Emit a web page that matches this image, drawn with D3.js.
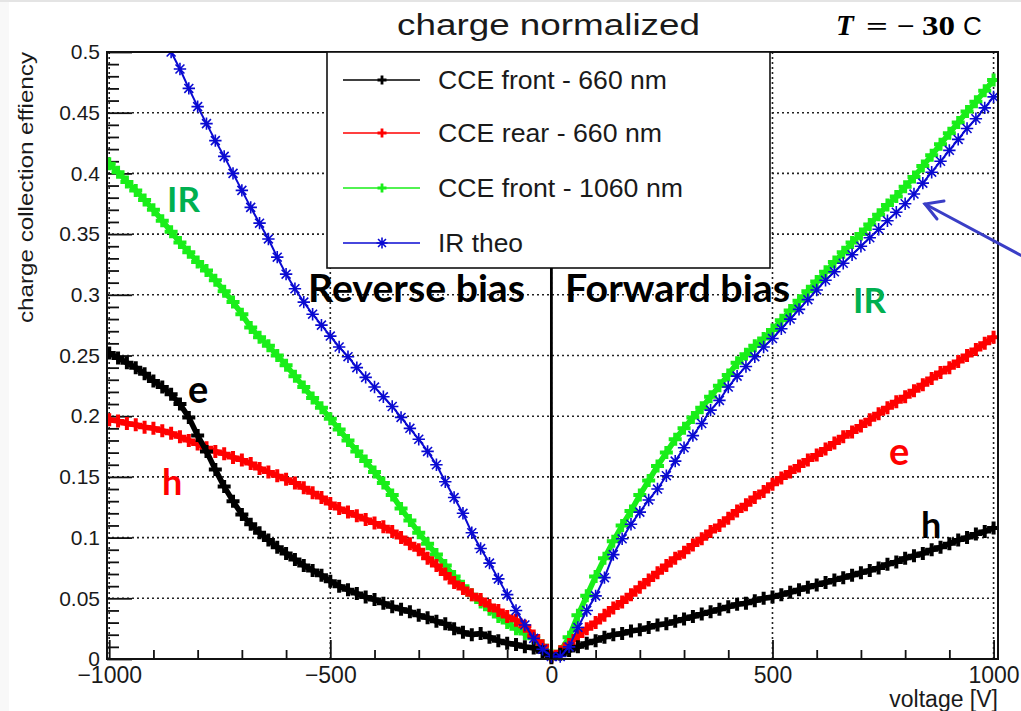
<!DOCTYPE html>
<html>
<head>
<meta charset="utf-8">
<script src="https://cdn.jsdelivr.net/npm/d3@7"></script>
<style>
  html, body { margin: 0; padding: 0; background: #ffffff; }
  svg { display: block; }
</style>
</head>
<body>
<svg id="chart" width="1021" height="711"></svg>
<script>
// Bias voltage [V], 20 V steps
const voltage = [
  -1000, -980, -960, -940, -920, -900, -880, -860, -840, -820,
  -800, -780, -760, -740, -720, -700, -680, -660, -640, -620,
  -600, -580, -560, -540, -520, -500, -480, -460, -440, -420,
  -400, -380, -360, -340, -320, -300, -280, -260, -240, -220,
  -200, -180, -160, -140, -120, -100, -80, -60, -40, -20,
  0,
  20, 40, 60, 80, 100, 120, 140, 160, 180, 200,
  220, 240, 260, 280, 300, 320, 340, 360, 380, 400,
  420, 440, 460, 480, 500, 520, 540, 560, 580, 600,
  620, 640, 660, 680, 700, 720, 740, 760, 780, 800,
  820, 840, 860, 880, 900, 920, 940, 960, 980, 1000
];

// CCE front - 660 nm
const cceFront660 = [
  0.252, 0.248, 0.244, 0.240, 0.235, 0.229, 0.224, 0.218, 0.210, 0.199,
  0.184, 0.171, 0.156, 0.142, 0.130, 0.119, 0.111, 0.104, 0.098, 0.092,
  0.087, 0.082, 0.077, 0.073, 0.069, 0.064, 0.060, 0.057, 0.054, 0.051,
  0.049, 0.046, 0.043, 0.041, 0.039, 0.036, 0.034, 0.031, 0.029, 0.025,
  0.022, 0.020, 0.021, 0.018, 0.015, 0.013, 0.012, 0.010, 0.009, 0.006,
  0.001,
  0.004, 0.007, 0.010, 0.013, 0.015, 0.018, 0.020, 0.021, 0.023, 0.024,
  0.026, 0.028, 0.029, 0.031, 0.033, 0.035, 0.037, 0.039, 0.041, 0.043,
  0.045, 0.046, 0.048, 0.050, 0.051, 0.053, 0.055, 0.057, 0.059, 0.061,
  0.063, 0.065, 0.067, 0.069, 0.071, 0.073, 0.075, 0.078, 0.080, 0.083,
  0.085, 0.087, 0.090, 0.092, 0.095, 0.098, 0.100, 0.103, 0.105, 0.108
];

// CCE rear - 660 nm
const cceRear660 = [
  0.197, 0.196, 0.194, 0.193, 0.191, 0.190, 0.188, 0.186, 0.183, 0.180,
  0.177, 0.174, 0.171, 0.169, 0.166, 0.164, 0.161, 0.157, 0.154, 0.151,
  0.148, 0.145, 0.141, 0.137, 0.133, 0.128, 0.124, 0.121, 0.118, 0.115,
  0.112, 0.109, 0.105, 0.100, 0.095, 0.090, 0.083, 0.077, 0.070, 0.063,
  0.058, 0.053, 0.049, 0.044, 0.040, 0.035, 0.032, 0.027, 0.019, 0.011,
  0.002,
  0.006, 0.012, 0.019, 0.025, 0.030, 0.036, 0.042, 0.047, 0.053, 0.059,
  0.065, 0.071, 0.077, 0.083, 0.088, 0.094, 0.099, 0.105, 0.110, 0.116,
  0.122, 0.127, 0.133, 0.138, 0.144, 0.149, 0.154, 0.159, 0.164, 0.168,
  0.173, 0.178, 0.183, 0.187, 0.192, 0.197, 0.202, 0.207, 0.212, 0.216,
  0.221, 0.226, 0.231, 0.236, 0.240, 0.245, 0.250, 0.255, 0.260, 0.265
];

// CCE front - 1060 nm
const cceFront1060 = [
  0.408, 0.401, 0.393, 0.386, 0.378, 0.370, 0.361, 0.352, 0.343, 0.335,
  0.327, 0.320, 0.312, 0.303, 0.294, 0.284, 0.273, 0.265, 0.258, 0.250,
  0.242, 0.233, 0.224, 0.215, 0.207, 0.198, 0.189, 0.180, 0.171, 0.163,
  0.154, 0.145, 0.135, 0.124, 0.114, 0.104, 0.095, 0.086, 0.077, 0.068,
  0.060, 0.053, 0.047, 0.041, 0.035, 0.030, 0.025, 0.021, 0.017, 0.011,
  0.003,
  0.006, 0.018, 0.036, 0.052, 0.068, 0.083, 0.097, 0.110, 0.122, 0.135,
  0.147, 0.159, 0.170, 0.181, 0.190, 0.199, 0.207, 0.216, 0.225, 0.234,
  0.244, 0.251, 0.258, 0.264, 0.271, 0.279, 0.287, 0.295, 0.303, 0.311,
  0.319, 0.327, 0.335, 0.343, 0.350, 0.358, 0.366, 0.374, 0.381, 0.389,
  0.397, 0.406, 0.415, 0.424, 0.433, 0.442, 0.451, 0.459, 0.468, 0.477
];

// IR theo (no points below -880 V)
const irTheo = [
  null, null, null, null, null, null, 0.514, 0.500, 0.486, 0.470,
  0.455, 0.441, 0.427, 0.414, 0.400, 0.386, 0.372, 0.359, 0.346, 0.331,
  0.317, 0.305, 0.294, 0.284, 0.275, 0.266, 0.257, 0.249, 0.240, 0.232,
  0.224, 0.216, 0.208, 0.199, 0.190, 0.181, 0.171, 0.160, 0.146, 0.133,
  0.120, 0.104, 0.091, 0.079, 0.066, 0.053, 0.040, 0.028, 0.017, 0.008,
  0.002,
  0.002, 0.010, 0.026, 0.040, 0.052, 0.067, 0.086, 0.099, 0.111, 0.121,
  0.131, 0.140, 0.151, 0.163, 0.174, 0.184, 0.194, 0.205, 0.213, 0.224,
  0.233, 0.241, 0.249, 0.257, 0.264, 0.272, 0.280, 0.288, 0.296, 0.304,
  0.312, 0.319, 0.326, 0.333, 0.340, 0.347, 0.354, 0.361, 0.368, 0.375,
  0.383, 0.392, 0.401, 0.410, 0.419, 0.428, 0.437, 0.445, 0.454, 0.463
];

const seriesNames = ["CCE front - 660 nm", "CCE rear - 660 nm", "CCE front - 1060 nm", "IR theo"];
const seriesColors = ["#000000", "#ff0000", "#19ee19", "#0a0ad2"];
const seriesMarkers = ["plus", "plus", "plus", "star"];
const seriesValues = [cceFront660, cceRear660, cceFront1060, irTheo];
// drawing order of the series (index into the arrays above)
const drawOrder = [2, 1, 0, 3];

const xMajorTicks = [-1000, -500, 0, 500, 1000];
const xTickLabels = ["\u22121000", "\u2212500", "0", "500", "1000"];
const xMinorTicks = [-900, -800, -700, -600, -400, -300, -200, -100,
                     100, 200, 300, 400, 600, 700, 800, 900];
const yMajorTicks = [0, 0.05, 0.1, 0.15, 0.2, 0.25, 0.3, 0.35, 0.4, 0.45, 0.5];
const yTickLabels = ["0", "0.05", "0.1", "0.15", "0.2", "0.25", "0.3", "0.35", "0.4", "0.45", "0.5"];
const yMinorTicks = [
  0.01, 0.02, 0.03, 0.04, 0.06, 0.07, 0.08, 0.09, 0.11, 0.12, 0.13, 0.14,
  0.16, 0.17, 0.18, 0.19, 0.21, 0.22, 0.23, 0.24, 0.26, 0.27, 0.28, 0.29,
  0.31, 0.32, 0.33, 0.34, 0.36, 0.37, 0.38, 0.39, 0.41, 0.42, 0.43, 0.44,
  0.46, 0.47, 0.48, 0.49
];

const titleText = "charge normalized";
const xTitle = "voltage [V]";
const yTitle = "charge collection effiency";

// ---------------------------------------------------------------
const svg = d3.select("#chart");
const W = 1021, H = 711;
const frame = { left: 107, right: 998, top: 52, bottom: 659 };

const x = d3.scaleLinear().domain([-1005, 1010]).range([frame.left, frame.right]);
const y = d3.scaleLinear().domain([0, 0.5]).range([frame.bottom, frame.top]);

const sans = "'Liberation Sans', Arial, Helvetica, sans-serif";
const bold = "Lato, 'Open Sans', sans-serif";

// page background with a faint slide edge
svg.append("rect").attr("width", W).attr("height", H).attr("fill", "#ffffff");
svg.append("rect").attr("x", 0).attr("y", 0).attr("width", W).attr("height", 2).attr("fill", "#e4e4e4");
svg.append("rect").attr("x", 0).attr("y", 2).attr("width", 9).attr("height", H - 2).attr("fill", "#f8f8f8");

// dotted grid
const grid = svg.append("g").attr("stroke", "#222").attr("stroke-width", 1.6)
  .attr("stroke-dasharray", "2 3").attr("fill", "none");
grid.selectAll("line.gx").data(xMajorTicks).join("line")
  .attr("x1", d => x(d)).attr("x2", d => x(d))
  .attr("y1", frame.top).attr("y2", frame.bottom);
grid.selectAll("line.gy").data(yMajorTicks.slice(1, -1)).join("line")
  .attr("x1", frame.left).attr("x2", frame.right)
  .attr("y1", d => y(d)).attr("y2", d => y(d));

// axes: ticks pointing into the frame
const xMinorAxis = d3.axisBottom(x).tickValues(xMinorTicks).tickSize(-9).tickSizeOuter(0).tickFormat("");
const xMajorAxis = d3.axisBottom(x).tickValues(xMajorTicks).tickSize(-19).tickSizeOuter(0)
  .tickPadding(8).tickFormat((d, i) => xTickLabels[i]);
const yMinorAxis = d3.axisLeft(y).tickValues(yMinorTicks).tickSize(-12).tickSizeOuter(0).tickFormat("");
const yMajorAxis = d3.axisLeft(y).tickValues(yMajorTicks).tickSize(-25).tickSizeOuter(0)
  .tickPadding(7).tickFormat((d, i) => yTickLabels[i]);

function styleAxis(g) {
  g.select(".domain").remove();
  g.selectAll(".tick line").attr("stroke", "#111").attr("stroke-width", 1.8);
  g.selectAll(".tick text").attr("fill", "#1a1a1a").attr("font-family", sans);
}
svg.append("g").attr("transform", `translate(0,${frame.bottom})`).call(xMinorAxis).call(styleAxis);
svg.append("g").attr("transform", `translate(0,${frame.bottom})`).call(xMajorAxis).call(styleAxis)
  .selectAll(".tick text").attr("font-size", 23);
svg.append("g").attr("transform", `translate(${frame.left},0)`).call(yMinorAxis).call(styleAxis);
svg.append("g").attr("transform", `translate(${frame.left},0)`).call(yMajorAxis).call(styleAxis)
  .selectAll(".tick text").attr("font-size", 21);

// data
svg.append("clipPath").attr("id", "plotClip").append("rect")
  .attr("x", frame.left).attr("y", frame.top)
  .attr("width", frame.right - frame.left).attr("height", 660 - frame.top + 12);

const markerPath = {
  plus: s => `M${-s},0H${s}M0,${-s}V${s}`,
  star: s => {
    const k = s * 0.72;
    return `M${-s},0H${s}M0,${-s}V${s}M${-k},${-k}L${k},${k}M${-k},${k}L${k},${-k}`;
  }
};

const plot = svg.append("g").attr("clip-path", "url(#plotClip)");
const line = d3.line()
  .defined(d => d[1] !== null)
  .x(d => x(d[0])).y(d => y(d[1]));

drawOrder.forEach(si => {
  const pts = voltage.map((v, i) => [v, seriesValues[si][i]]);
  const shown = pts.filter(d => d[1] !== null);
  const isStar = seriesMarkers[si] === "star";
  const g = plot.append("g");
  g.append("path").datum(pts)
    .attr("d", line)
    .attr("fill", "none")
    .attr("stroke", seriesColors[si])
    .attr("stroke-width", isStar ? 2 : 5.5)
    .attr("stroke-linejoin", "round");
  g.selectAll("path.m").data(shown).join("path")
    .attr("transform", d => `translate(${x(d[0])},${y(d[1])})`)
    .attr("d", markerPath[seriesMarkers[si]](isStar ? 6.2 : 6.5))
    .attr("fill", "none")
    .attr("stroke", seriesColors[si])
    .attr("stroke-width", isStar ? 1.6 : 4);
});

// frame
svg.append("rect")
  .attr("x", frame.left).attr("y", frame.top)
  .attr("width", frame.right - frame.left).attr("height", frame.bottom - frame.top)
  .attr("fill", "none").attr("stroke", "#111").attr("stroke-width", 2);

// legend
const legend = { x: 327, y: 52, w: 443, h: 216 };
svg.append("rect")
  .attr("x", legend.x).attr("y", legend.y).attr("width", legend.w).attr("height", legend.h)
  .attr("fill", "#ffffff").attr("stroke", "#111").attr("stroke-width", 1.6);
const legendRows = [80, 133, 188, 243];
const legendTextWidths = [229, 224, 245, 85];
seriesNames.forEach((name, i) => {
  const ry = legendRows[i];
  svg.append("line")
    .attr("x1", 343).attr("x2", 420).attr("y1", ry).attr("y2", ry)
    .attr("stroke", seriesColors[i]).attr("stroke-width", 1.6);
  svg.append("path")
    .attr("transform", `translate(382,${ry})`)
    .attr("d", markerPath[seriesMarkers[i]](seriesMarkers[i] === "star" ? 5.5 : 4.5))
    .attr("fill", "none").attr("stroke", seriesColors[i])
    .attr("stroke-width", seriesMarkers[i] === "star" ? 1.6 : 2.8);
  svg.append("text")
    .attr("x", 438).attr("y", ry + 9)
    .attr("font-family", sans).attr("font-size", 25).attr("fill", "#1a1a1a")
    .attr("textLength", legendTextWidths[i]).attr("lengthAdjust", "spacingAndGlyphs")
    .text(name);
});

// separator between reverse and forward bias
svg.append("line")
  .attr("x1", x(0)).attr("x2", x(0))
  .attr("y1", legend.y + legend.h).attr("y2", frame.bottom)
  .attr("stroke", "#000").attr("stroke-width", 2.8);

// titles
svg.append("text")
  .attr("x", 397).attr("y", 35)
  .attr("font-family", sans).attr("font-size", 30).attr("fill", "#1a1a1a")
  .attr("textLength", 303).attr("lengthAdjust", "spacingAndGlyphs")
  .text(titleText);

svg.append("text")
  .attr("transform", "translate(33,52) rotate(-90)")
  .attr("text-anchor", "end")
  .attr("font-family", sans).attr("font-size", 20).attr("fill", "#1a1a1a")
  .attr("textLength", 271).attr("lengthAdjust", "spacingAndGlyphs")
  .text(yTitle);

svg.append("text")
  .attr("x", 998).attr("y", 707).attr("text-anchor", "end")
  .attr("font-family", sans).attr("font-size", 23).attr("fill", "#1a1a1a")
  .text(xTitle);

// annotations
const notes = [
  { t: "Reverse bias", x: 308, y: 302, c: "#000000", s: 38, w: 217 },
  { t: "Forward bias", x: 565, y: 302, c: "#000000", s: 38, w: 225 },
  { t: "IR", x: 167, y: 212, c: "#00b050", s: 35 },
  { t: "IR", x: 853, y: 313, c: "#00b050", s: 35 },
  { t: "e", x: 188, y: 403, c: "#000000", s: 38 },
  { t: "h", x: 162, y: 495, c: "#ff0000", s: 36 },
  { t: "e", x: 889, y: 465, c: "#ff0000", s: 38 },
  { t: "h", x: 921, y: 538, c: "#000000", s: 36 }
];
notes.forEach(n => {
  const t = svg.append("text")
    .attr("x", n.x).attr("y", n.y)
    .attr("font-family", bold).attr("font-weight", 700)
    .attr("font-size", n.s).attr("fill", n.c)
    .text(n.t);
  if (n.w) t.attr("textLength", n.w).attr("lengthAdjust", "spacingAndGlyphs");
});

// temperature label: T = −30 C
const serif = "'Liberation Serif', 'DejaVu Serif', serif";
const tempParts = [
  { t: "T", x: 836, s: 29, w: null, f: serif, wt: 700, st: "italic" },
  { t: "=", x: 866, s: 26, w: 22, f: serif, wt: 700, st: "normal" },
  { t: "\u2212", x: 897, s: 26, w: 18, f: serif, wt: 700, st: "normal" },
  { t: "30", x: 922, s: 27, w: 33, f: serif, wt: 700, st: "normal" },
  { t: "C", x: 963, s: 26, w: null, f: sans, wt: 400, st: "normal" }
];
tempParts.forEach(p => {
  const t = svg.append("text")
    .attr("x", p.x).attr("y", 35)
    .attr("font-family", p.f).attr("font-weight", p.wt).attr("font-style", p.st)
    .attr("font-size", p.s).attr("fill", "#000")
    .text(p.t);
  if (p.w) t.attr("textLength", p.w).attr("lengthAdjust", "spacingAndGlyphs");
});

// arrow pointing at the theory curve
const arrow = svg.append("g").attr("stroke", "#3a3ec6").attr("stroke-width", 3)
  .attr("fill", "none").attr("stroke-linecap", "round");
arrow.append("line").attr("x1", 1024).attr("y1", 257).attr("x2", 925).attr("y2", 204);
arrow.append("polyline").attr("points", "944,201 925,204 937,219");
</script>
</body>
</html>
